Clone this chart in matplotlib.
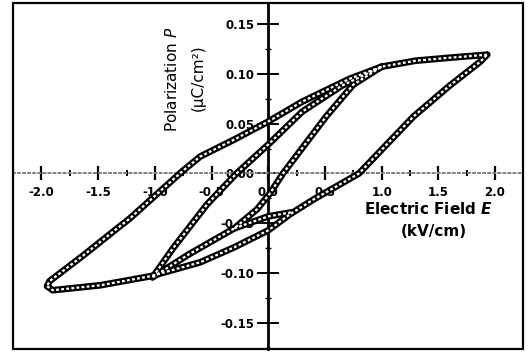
import matplotlib
matplotlib.use("Agg")
import matplotlib.pyplot as plt
from matplotlib.patches import Rectangle
from matplotlib.ticker import MultipleLocator, FixedFormatter, FixedLocator

# ── data read off the scanned hysteresis loops ──────────────────────────────
# outer loop, descending branch (right to left)
e_outer_down = [1.93, 1.60, 1.30, 1.00, 0.72, 0.30, 0.00, -0.30, -0.60, -0.76, -1.22, -1.31, -1.63, -1.93, -1.95]
p_outer_down = [0.119, 0.116, 0.113, 0.107, 0.095, 0.072, 0.052, 0.034, 0.017, 0.002, -0.045, -0.053, -0.082, -0.108, -0.113]
# outer loop, ascending branch (left to right)
e_outer_up = [-1.95, -1.90, -1.48, -1.04, -0.60, -0.30, 0.00, 0.19, 0.40, 0.80, 1.28, 1.60, 1.87, 1.93]
p_outer_up = [-0.113, -0.117, -0.112, -0.103, -0.089, -0.074, -0.057, -0.041, -0.026, 0.000, 0.057, 0.088, 0.112, 0.119]
# inner loop, descending branch
e_inner_down = [1.00, 0.65, 0.30, 0.00, -0.28, -0.54, -0.84, -1.02]
p_inner_down = [0.107, 0.088, 0.062, 0.029, 0.000, -0.031, -0.075, -0.104]
# inner loop, ascending branch
e_inner_up = [-1.02, -0.70, -0.30, -0.10, 0.015, 0.13, 0.37, 0.51, 0.75, 1.00]
p_inner_up = [-0.104, -0.081, -0.055, -0.036, -0.020, 0.000, 0.036, 0.057, 0.089, 0.107]
# short trace joining the inner loop onto the outer loop
e_link = [-0.30, 0.00, 0.20]
p_link = [-0.055, -0.043, -0.039]

x_ticks = [-2.0, -1.5, -1.0, -0.5, 0.0, 0.5, 1.0, 1.5, 2.0]
x_labels = ["-2.0", "-1.5", "-1.0", "-0.5", "0.0", "0.5", "1.0", "1.5", "2.0"]
y_ticks = [-0.15, -0.10, -0.05, 0.00, 0.05, 0.10, 0.15]
y_labels = ["-0.15", "-0.10", "-0.05", "0.00", "0.05", "0.10", "0.15"]

fig = plt.figure(figsize=(5.28, 3.53), dpi=100)
ax = fig.add_axes([0.024, 0.011, 0.967, 0.981])
ax.set_xlim(-2.254, 2.249)
ax.set_ylim(-0.176, 0.171)

# chain-of-open-markers look: thick black stroke with white dashes inside
for ex, py in [(e_outer_down, p_outer_down), (e_outer_up, p_outer_up),
               (e_inner_down, p_inner_down), (e_inner_up, p_inner_up),
               (e_link, p_link)]:
    ax.plot(ex, py, color="black", lw=4.8, solid_capstyle="round",
            solid_joinstyle="round", zorder=3)
    ax.plot(ex, py, color="white", lw=1.6, dashes=(1.3, 1.0), zorder=3.1)

# axes through the origin
for side in ["top", "right"]:
    ax.spines[side].set_visible(False)
ax.spines["left"].set_position(("data", 0))
ax.spines["left"].set_linewidth(2.0)
ax.spines["left"].set_color("black")
ax.spines["bottom"].set_position(("data", 0))
ax.spines["bottom"].set_linestyle((0, (1, 1.6)))
ax.spines["bottom"].set_linewidth(1.4)
ax.spines["bottom"].set_color("#808080")

ax.add_patch(Rectangle((0, 0), 1, 1, transform=ax.transAxes, fill=False,
                       edgecolor="black", lw=1.6, clip_on=False, zorder=4))

ax.xaxis.set_major_locator(FixedLocator(x_ticks))
ax.xaxis.set_major_formatter(FixedFormatter(x_labels))
ax.xaxis.set_minor_locator(MultipleLocator(0.25))
ax.yaxis.set_major_locator(FixedLocator(y_ticks))
ax.yaxis.set_major_formatter(FixedFormatter(y_labels))
ax.yaxis.set_minor_locator(MultipleLocator(0.025))

ax.tick_params(axis="x", which="major", direction="inout", length=10,
               width=1.6, color="black", pad=4)
ax.tick_params(axis="x", which="minor", direction="inout", length=5,
               width=1.4, color="black")
ax.tick_params(axis="y", which="major", direction="inout", length=16,
               width=1.4, color="black", pad=2)
ax.tick_params(axis="y", which="minor", direction="inout", length=5,
               width=1.0, color="black")
for lab in ax.get_xticklabels() + ax.get_yticklabels():
    lab.set_fontweight("bold")
    lab.set_fontsize(8.5)

ax.text(-0.845, 0.094, "Polarization $P$", rotation=90, ha="center",
        va="center", fontsize=11)
ax.text(-0.62, 0.096, "(µC/cm²)", rotation=90, ha="center", va="center",
        fontsize=11)
ax.text(1.41, -0.036, "Electric Field $\\mathbfit{E}$", ha="center",
        va="center", fontsize=11, fontweight="bold")
ax.text(1.46, -0.058, "(kV/cm)", ha="center", va="center", fontsize=11,
        fontweight="bold")

fig.savefig("out.png", dpi=100, facecolor="white")
